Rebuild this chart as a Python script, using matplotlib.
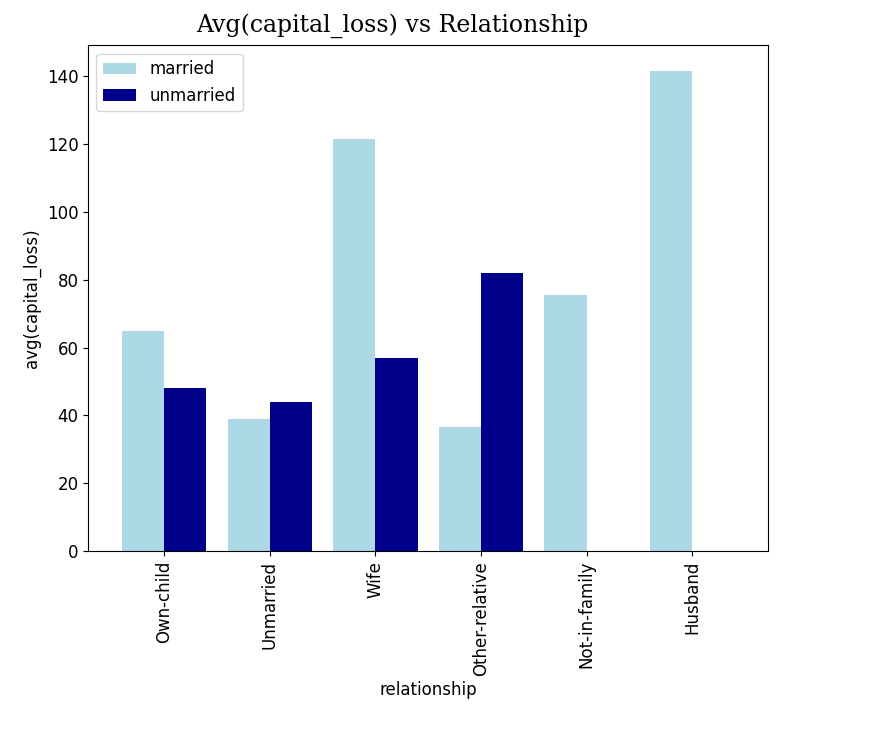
import matplotlib
matplotlib.use("Agg")
import matplotlib.pyplot as plt
import numpy as np

relationships = ["Own-child", "Unmarried", "Wife", "Other-relative", "Not-in-family", "Husband"]
married = [65, 39, 121.5, 36.5, 75.5, 141.5]
unmarried = [48, 44, 57, 82, 0, 0]

fig = plt.figure(figsize=(8.81, 7.42), dpi=100)
ax = fig.add_axes([0.1, 0.257, 0.772, 0.682])
x = np.arange(len(relationships))
w = 0.4
ax.bar(x - w / 2, married, w, color="lightblue", label="married")
ax.bar(x + w / 2, unmarried, w, color="darkblue", label="unmarried")
ax.set_xticks(x)
ax.set_xticklabels(relationships, rotation=90, fontsize=12)
ax.tick_params(axis="y", labelsize=12)
ax.set_xlim(-0.72, 5.72)
ax.set_ylim(0, 149)
ax.set_xlabel("relationship", fontsize=12)
ax.set_ylabel("avg(capital_loss)", fontsize=12)
ax.legend(loc="upper left", fontsize=12)
fig.text(0.445, 0.965, "Avg(capital_loss) vs Relationship", ha="center", va="center",
         fontsize=17, family="DejaVu Serif")
fig.savefig("out.png")
